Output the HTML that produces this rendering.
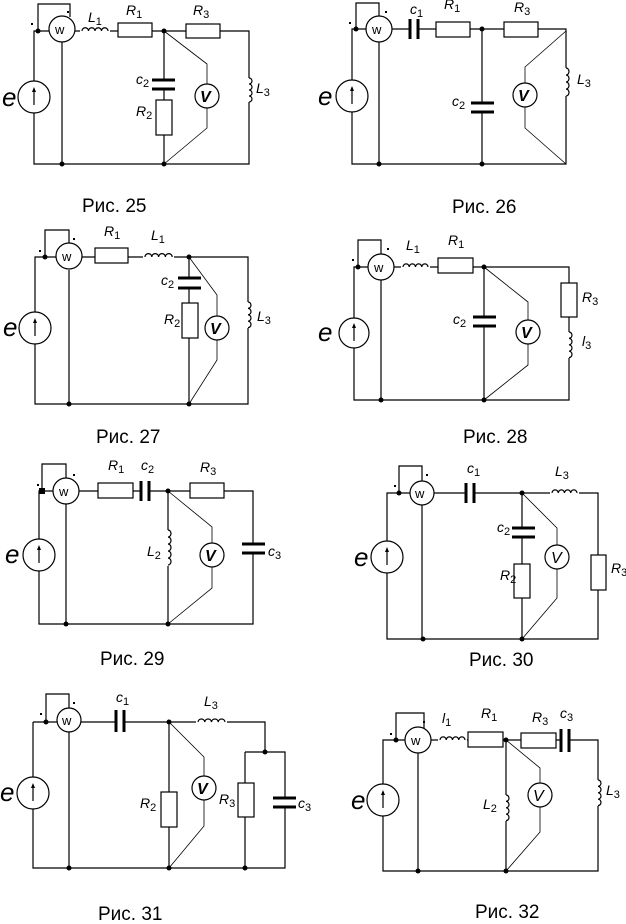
<!DOCTYPE html>
<html><head><meta charset="utf-8"><style>
html,body{margin:0;padding:0;background:#fff}
svg{display:block}
text{font-family:"Liberation Sans",sans-serif;fill:#000}
.l{font-size:14px;font-style:italic}
.s{font-size:11px;font-style:normal}
.e{font-size:26px;font-style:italic}
.cap{font-size:19px}
.w{fill:none;stroke:#000;stroke-width:1.2}
.thin{fill:none;stroke:#000;stroke-width:0.8}
.r{fill:#fff;stroke:#000;stroke-width:1.2}
.p{stroke:#000;stroke-width:3}
.g{fill:#fff;stroke:none}
</style></head><body>
<svg width="626" height="924" viewBox="0 0 626 924" xmlns="http://www.w3.org/2000/svg">

<!-- ========== 25 ========== -->
<g>
<path class="w" d="M34,31 H249 V164 H34 Z M38,31 V4 H70 V17 M62,42 V164 M164,31 V164"/>
<path class="thin" d="M164,31 L207,64 V84 M207,108 V128 L164,164"/>
<rect class="g" x="80" y="25" width="30" height="10"/>
<path class="w" d="M82,31 a3.25,3.25 0 0 1 6.5,0 a3.25,3.25 0 0 1 6.5,0 a3.25,3.25 0 0 1 6.5,0 a3.25,3.25 0 0 1 6.5,0"/>
<rect class="r" x="118" y="23" width="34" height="14"/>
<rect class="r" x="186" y="24" width="34" height="14"/>
<rect class="g" x="244" y="78" width="12" height="24"/>
<path class="w" d="M249,78 a3,3 0 0 1 0,6 a3,3 0 0 1 0,6 a3,3 0 0 1 0,6 a3,3 0 0 1 0,6"/>
<rect class="g" x="150" y="81" width="26" height="7"/>
<path class="p" d="M152,80 H175 M152,89 H175"/>
<rect class="r" x="156" y="100" width="16" height="35"/>
<circle class="r" cx="34" cy="97" r="16"/><path class="w" d="M34,105 V89"/><path d="M34,87 l-2,5 h4z"/>
<circle class="r" cx="62" cy="29" r="13"/><text x="55" y="34" style="font-size:13px">w</text>
<circle class="r" cx="207" cy="96" r="12"/><text x="200" y="102" style="font-size:16px;font-weight:bold;font-style:italic">V</text>
<circle cx="38" cy="31" r="2.5"/><circle cx="164" cy="31" r="2.5"/><circle cx="62" cy="164" r="2.5"/><circle cx="164" cy="164" r="2.5"/>
<rect x="31" y="23" width="2" height="2"/><rect x="67" y="11" width="2" height="2"/>
<text class="e" x="2" y="106">e</text>
<text class="l" x="88" y="22">L<tspan class="s" dy="3">1</tspan></text>
<text class="l" x="126" y="15">R<tspan class="s" dy="3">1</tspan></text>
<text class="l" x="193" y="15">R<tspan class="s" dy="3">3</tspan></text>
<text class="l" x="136" y="84">c<tspan class="s" dy="3">2</tspan></text>
<text class="l" x="136" y="116">R<tspan class="s" dy="3">2</tspan></text>
<text class="l" x="256" y="93">L<tspan class="s" dy="3">3</tspan></text>
<text class="cap" x="82" y="212">Рис. 25</text>
</g>

<!-- ========== 26 ========== -->
<g>
<path class="w" d="M352,29 H566 V164 H352 Z M356,29 V3 H379 V16 M379,42 V164 M482,29 V164"/>
<path class="thin" d="M566,31 L525,67 V83 M525,107 V128 L566,164"/>
<rect class="g" x="411" y="20" width="6" height="18"/>
<path class="p" d="M410,19 V39 M418,19 V39"/>
<rect class="r" x="436" y="22" width="34" height="15"/>
<rect class="r" x="504" y="22" width="34" height="15"/>
<rect class="g" x="561" y="68" width="12" height="28"/>
<path class="w" d="M566,68 a3,3.5 0 0 1 0,7 a3,3.5 0 0 1 0,7 a3,3.5 0 0 1 0,7 a3,3.5 0 0 1 0,7"/>
<rect class="g" x="470" y="104" width="26" height="7"/>
<path class="p" d="M471,103 H494 M471,112 H494"/>
<circle class="r" cx="352" cy="96" r="16"/><path class="w" d="M352,104 V88"/><path d="M352,86 l-2,5 h4z"/>
<circle class="r" cx="379" cy="29" r="13"/><text x="372" y="34" style="font-size:13px">w</text>
<circle class="r" cx="525" cy="95" r="12"/><text x="518" y="101" style="font-size:16px;font-weight:bold;font-style:italic">V</text>
<circle cx="356" cy="29" r="2.5"/><circle cx="482" cy="29" r="2.5"/><circle cx="379" cy="164" r="2.5"/><circle cx="482" cy="164" r="2.5"/>
<rect x="349" y="22" width="2" height="2"/><rect x="385" y="11" width="2" height="2"/>
<text class="e" x="318" y="105">e</text>
<text class="l" x="410" y="14">c<tspan class="s" dy="3">1</tspan></text>
<text class="l" x="444" y="9">R<tspan class="s" dy="3">1</tspan></text>
<text class="l" x="514" y="12">R<tspan class="s" dy="3">3</tspan></text>
<text class="l" x="452" y="106">c<tspan class="s" dy="3">2</tspan></text>
<text class="l" x="577" y="84">L<tspan class="s" dy="3">3</tspan></text>
<text class="cap" x="452" y="213">Рис. 26</text>
</g>

<!-- ========== 27 ========== -->
<g>
<path class="w" d="M35,257 H248 V404 H35 Z M45,257 V230 H69 V243 M69,270 V404 M189,257 V404"/>
<path class="thin" d="M189,257 L217,295 V316 M217,340 V360 L189,404"/>
<rect class="r" x="95" y="248" width="33" height="15"/>
<rect class="g" x="143" y="251" width="31" height="10"/>
<path class="w" d="M145,257 a3.4,3.4 0 0 1 6.8,0 a3.4,3.4 0 0 1 6.8,0 a3.4,3.4 0 0 1 6.8,0 a3.4,3.4 0 0 1 6.8,0"/>
<rect class="g" x="243" y="302" width="12" height="26"/>
<path class="w" d="M248,302 a3,3.2 0 0 1 0,6.4 a3,3.2 0 0 1 0,6.4 a3,3.2 0 0 1 0,6.4 a3,3.2 0 0 1 0,6.4"/>
<rect class="g" x="177" y="279" width="26" height="8"/>
<path class="p" d="M178,278 H201 M178,288 H201"/>
<rect class="r" x="182" y="303" width="16" height="35"/>
<circle class="r" cx="35" cy="328" r="16"/><path class="w" d="M35,336 V320"/><path d="M35,318 l-2,5 h4z"/>
<circle class="r" cx="69" cy="256" r="13"/><text x="62" y="261" style="font-size:13px">w</text>
<circle class="r" cx="217" cy="328" r="12"/><text x="210" y="334" style="font-size:16px;font-weight:bold;font-style:italic">V</text>
<circle cx="45" cy="257" r="2.5"/><circle cx="189" cy="257" r="2.5"/><circle cx="69" cy="404" r="2.5"/><circle cx="189" cy="404" r="2.5"/>
<rect x="39" y="250" width="2" height="2"/><rect x="73" y="238" width="2" height="2"/>
<text class="e" x="3" y="336">e</text>
<text class="l" x="104" y="236">R<tspan class="s" dy="3">1</tspan></text>
<text class="l" x="151" y="240">L<tspan class="s" dy="3">1</tspan></text>
<text class="l" x="161" y="285">c<tspan class="s" dy="3">2</tspan></text>
<text class="l" x="164" y="324">R<tspan class="s" dy="3">2</tspan></text>
<text class="l" x="257" y="321">L<tspan class="s" dy="3">3</tspan></text>
<text class="cap" x="96" y="443">Рис. 27</text>
</g>

<!-- ========== 28 ========== -->
<g>
<path class="w" d="M354,267 H569 V400 H354 Z M358,267 V240 H381 V254 M381,280 V400 M484,267 V400"/>
<path class="thin" d="M484,267 L528,302 V320 M528,344 V365 L484,400"/>
<rect class="g" x="401" y="261" width="29" height="10"/>
<path class="w" d="M403,267 a3.1,3.1 0 0 1 6.25,0 a3.1,3.1 0 0 1 6.25,0 a3.1,3.1 0 0 1 6.25,0 a3.1,3.1 0 0 1 6.25,0"/>
<rect class="r" x="438" y="258" width="35" height="15"/>
<rect class="r" x="561" y="283" width="16" height="34"/>
<rect class="g" x="564" y="332" width="12" height="26"/>
<path class="w" d="M569,332 a3,3.2 0 0 1 0,6.4 a3,3.2 0 0 1 0,6.4 a3,3.2 0 0 1 0,6.4 a3,3.2 0 0 1 0,6.4"/>
<rect class="g" x="472" y="318" width="26" height="7"/>
<path class="p" d="M473,317 H496 M473,326 H496"/>
<circle class="r" cx="354" cy="333" r="15"/><path class="w" d="M354,341 V325"/><path d="M354,323 l-2,5 h4z"/>
<circle class="r" cx="381" cy="267" r="13"/><text x="374" y="272" style="font-size:13px">w</text>
<circle class="r" cx="528" cy="332" r="12"/><text x="521" y="338" style="font-size:16px;font-weight:bold;font-style:italic">V</text>
<circle cx="358" cy="267" r="2.5"/><circle cx="484" cy="267" r="2.5"/><circle cx="381" cy="400" r="2.5"/><circle cx="484" cy="400" r="2.5"/>
<rect x="352" y="259" width="2" height="2"/><rect x="387" y="248" width="2" height="2"/>
<text class="e" x="318" y="341">e</text>
<text class="l" x="406" y="250">L<tspan class="s" dy="3">1</tspan></text>
<text class="l" x="448" y="245">R<tspan class="s" dy="3">1</tspan></text>
<text class="l" x="453" y="324">c<tspan class="s" dy="3">2</tspan></text>
<text class="l" x="582" y="302">R<tspan class="s" dy="3">3</tspan></text>
<text class="l" x="582" y="346">l<tspan class="s" dy="3">3</tspan></text>
<text class="cap" x="463" y="443">Рис. 28</text>
</g>

<!-- ========== 29 ========== -->
<g>
<path class="w" d="M39,491 H253 V624 H39 Z M42,491 V464 H66 V478 M66,504 V624 M168,491 V624"/>
<path class="thin" d="M168,491 L212,527 V543 M212,567 V588 L168,624"/>
<rect class="r" x="98" y="483" width="35" height="15"/>
<rect class="g" x="142" y="482" width="6" height="18"/>
<path class="p" d="M141,481 V501 M149,481 V501"/>
<rect class="r" x="190" y="483" width="34" height="15"/>
<rect class="g" x="241" y="545" width="26" height="7"/>
<path class="p" d="M242,544 H265 M242,553 H265"/>
<rect class="g" x="163" y="530" width="12" height="36"/>
<path class="w" d="M168,530 a3,3.5 0 0 1 0,7 a3,3.5 0 0 1 0,7 a3,3.5 0 0 1 0,7 a3,3.5 0 0 1 0,7 a3,3.5 0 0 1 0,7"/>
<circle class="r" cx="39" cy="555" r="16"/><path class="w" d="M39,563 V547"/><path d="M39,545 l-2,5 h4z"/>
<circle class="r" cx="66" cy="491" r="13"/><text x="59" y="496" style="font-size:13px">w</text>
<circle class="r" cx="212" cy="555" r="12"/><text x="205" y="561" style="font-size:16px;font-weight:bold;font-style:italic">V</text>
<rect x="39" y="488" width="6" height="6"/><circle cx="168" cy="491" r="2.5"/><circle cx="66" cy="624" r="2.5"/><circle cx="168" cy="624" r="2.5"/>
<rect x="37" y="484" width="2" height="2"/><rect x="73" y="474" width="2" height="2"/>
<text class="e" x="5" y="563">e</text>
<text class="l" x="108" y="470">R<tspan class="s" dy="3">1</tspan></text>
<text class="l" x="141" y="470">c<tspan class="s" dy="3">2</tspan></text>
<text class="l" x="200" y="472">R<tspan class="s" dy="3">3</tspan></text>
<text class="l" x="147" y="556">L<tspan class="s" dy="3">2</tspan></text>
<text class="l" x="268" y="556">c<tspan class="s" dy="3">3</tspan></text>
<text class="cap" x="100" y="665">Рис. 29</text>
</g>

<!-- ========== 30 ========== -->
<g>
<path class="w" d="M387,493 H598 V639 H387 Z M399,493 V466 H422 V481 M422,505 V639 M522,493 V639"/>
<path class="thin" d="M522,493 L557,528 V545 M557,569 V598 L522,639"/>
<rect class="g" x="467" y="484" width="6" height="18"/>
<path class="p" d="M466,483 V503 M474,483 V503"/>
<rect class="g" x="550" y="487" width="29" height="10"/>
<path class="w" d="M552,493 a3.1,3.1 0 0 1 6.25,0 a3.1,3.1 0 0 1 6.25,0 a3.1,3.1 0 0 1 6.25,0 a3.1,3.1 0 0 1 6.25,0"/>
<rect class="r" x="591" y="555" width="15" height="35"/>
<rect class="g" x="511" y="529" width="26" height="7"/>
<path class="p" d="M512,528 H535 M512,537 H535"/>
<rect class="r" x="514" y="564" width="16" height="34"/>
<circle class="r" cx="387" cy="557" r="16"/><path class="w" d="M387,565 V549"/><path d="M387,547 l-2,5 h4z"/>
<circle class="r" cx="422" cy="493" r="12"/><text x="415" y="498" style="font-size:13px">w</text>
<circle class="r" cx="557" cy="557" r="12"/><text x="551" y="563" style="font-size:16px;font-style:italic">V</text>
<circle cx="399" cy="493" r="2.5"/><circle cx="522" cy="493" r="2.5"/><circle cx="423" cy="639" r="2.5"/><circle cx="522" cy="639" r="2.5"/>
<rect x="394" y="485" width="2" height="2"/><rect x="426" y="474" width="2" height="2"/>
<text class="e" x="354" y="566">e</text>
<text class="l" x="467" y="473">c<tspan class="s" dy="3">1</tspan></text>
<text class="l" x="555" y="476">L<tspan class="s" dy="3">3</tspan></text>
<text class="l" x="497" y="532">c<tspan class="s" dy="3">2</tspan></text>
<text class="l" x="500" y="580">R<tspan class="s" dy="3">2</tspan></text>
<text class="l" x="611" y="573">R<tspan class="s" dy="3">3</tspan></text>
<text class="cap" x="469" y="666">Рис. 30</text>
</g>

<!-- ========== 31 ========== -->
<g>
<path class="w" d="M33,722 H265 V752 M245,752 H285 V868 H33 V722 M46,722 V694 H69 V708 M69,732 V868 M169,722 V868 M245,752 V868"/>
<path class="thin" d="M169,722 L204,757 V776 M204,800 V826 L169,868"/>
<rect class="g" x="117" y="711" width="6" height="20"/>
<path class="p" d="M116,710 V732 M124,710 V732"/>
<rect class="g" x="196" y="716" width="31" height="10"/>
<path class="w" d="M198,722 a3.4,3.4 0 0 1 6.75,0 a3.4,3.4 0 0 1 6.75,0 a3.4,3.4 0 0 1 6.75,0 a3.4,3.4 0 0 1 6.75,0"/>
<rect class="r" x="238" y="783" width="16" height="34"/>
<rect class="g" x="272" y="799" width="26" height="7"/>
<path class="p" d="M273,798 H296 M273,807 H296"/>
<rect class="r" x="161" y="792" width="16" height="35"/>
<circle class="r" cx="33" cy="793" r="16"/><path class="w" d="M33,801 V785"/><path d="M33,783 l-2,5 h4z"/>
<circle class="r" cx="69" cy="720" r="12"/><text x="62" y="725" style="font-size:13px">w</text>
<circle class="r" cx="204" cy="788" r="12"/><text x="197" y="794" style="font-size:16px;font-weight:bold;font-style:italic">V</text>
<circle cx="46" cy="722" r="2.5"/><circle cx="169" cy="722" r="2.5"/><circle cx="265" cy="752" r="2.5"/><circle cx="69" cy="868" r="2.5"/><circle cx="169" cy="868" r="2.5"/><circle cx="245" cy="868" r="2.5"/>
<rect x="40" y="713" width="2" height="2"/><rect x="73" y="702" width="2" height="2"/>
<text class="e" x="0" y="801">e</text>
<text class="l" x="116" y="702">c<tspan class="s" dy="3">1</tspan></text>
<text class="l" x="204" y="706">L<tspan class="s" dy="3">3</tspan></text>
<text class="l" x="140" y="808">R<tspan class="s" dy="3">2</tspan></text>
<text class="l" x="219" y="804">R<tspan class="s" dy="3">3</tspan></text>
<text class="l" x="298" y="808">c<tspan class="s" dy="3">3</tspan></text>
<text class="cap" x="98" y="920">Рис. 31</text>
</g>

<!-- ========== 32 ========== -->
<g>
<path class="w" d="M383,740 H598 V871 H383 Z M396,740 V713 H424 V729 M418,753 V871 M506,740 V871"/>
<path class="thin" d="M506,740 L540,768 V783 M540,807 V832 L506,871"/>
<rect class="g" x="438" y="734" width="29" height="10"/>
<path class="w" d="M440,740 a3.1,3.1 0 0 1 6.25,0 a3.1,3.1 0 0 1 6.25,0 a3.1,3.1 0 0 1 6.25,0 a3.1,3.1 0 0 1 6.25,0"/>
<rect class="r" x="468" y="732" width="35" height="15"/>
<rect class="r" x="521" y="733" width="35" height="15"/>
<rect class="g" x="562" y="730" width="6" height="21"/>
<path class="p" d="M561,729 V752 M569,729 V752"/>
<rect class="g" x="593" y="780" width="12" height="26"/>
<path class="w" d="M598,780 a3,3.2 0 0 1 0,6.4 a3,3.2 0 0 1 0,6.4 a3,3.2 0 0 1 0,6.4 a3,3.2 0 0 1 0,6.4"/>
<rect class="g" x="501" y="795" width="12" height="26"/>
<path class="w" d="M506,795 a3,3.2 0 0 1 0,6.4 a3,3.2 0 0 1 0,6.4 a3,3.2 0 0 1 0,6.4 a3,3.2 0 0 1 0,6.4"/>
<circle class="r" cx="383" cy="800" r="16"/><path class="w" d="M383,808 V792"/><path d="M383,790 l-2,5 h4z"/>
<circle class="r" cx="418" cy="740" r="13"/><text x="411" y="745" style="font-size:13px">w</text>
<circle class="r" cx="540" cy="795" r="12"/><text x="533" y="801" style="font-size:16px;font-style:italic">V</text>
<circle cx="396" cy="740" r="2.5"/><circle cx="506" cy="740" r="2.5"/><circle cx="418" cy="871" r="2.5"/><circle cx="506" cy="871" r="2.5"/>
<rect x="390" y="733" width="2" height="2"/><rect x="423" y="721" width="2" height="2"/>
<text class="e" x="351" y="809">e</text>
<text class="l" x="442" y="723">l<tspan class="s" dy="3">1</tspan></text>
<text class="l" x="481" y="718">R<tspan class="s" dy="3">1</tspan></text>
<text class="l" x="532" y="722">R<tspan class="s" dy="3">3</tspan></text>
<text class="l" x="560" y="718">c<tspan class="s" dy="3">3</tspan></text>
<text class="l" x="483" y="809">L<tspan class="s" dy="3">2</tspan></text>
<text class="l" x="606" y="795">L<tspan class="s" dy="3">3</tspan></text>
<text class="cap" x="475" y="918">Рис. 32</text>
</g>
</svg>
</body></html>
